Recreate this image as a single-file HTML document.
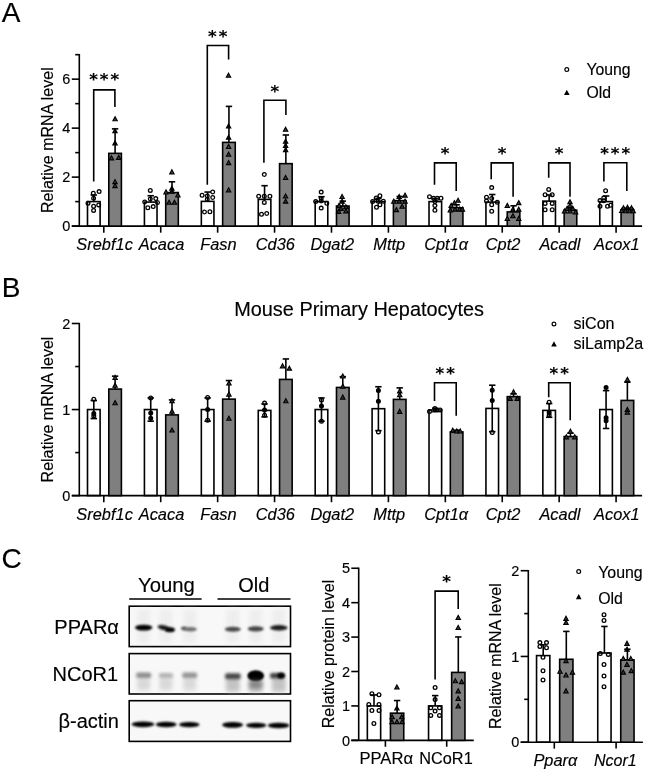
<!DOCTYPE html>
<html lang="en"><head><meta charset="utf-8"><title>Figure</title>
<style>
html,body{margin:0;padding:0;background:#fff;}
body{width:646px;height:772px;overflow:hidden;}
svg{display:block;}
text{fill:#000;stroke:#000;stroke-width:0.15px;}
</style></head><body>
<svg width="646" height="772" viewBox="0 0 646 772" font-family="Liberation Sans, Arial, sans-serif">
<defs>
<filter id="b1" x="-50%" y="-200%" width="200%" height="500%"><feGaussianBlur stdDeviation="1.1 0.9"/></filter>
<filter id="b2" x="-50%" y="-200%" width="200%" height="500%"><feGaussianBlur stdDeviation="1.6 1.4"/></filter>
<filter id="b3" x="-50%" y="-200%" width="200%" height="500%"><feGaussianBlur stdDeviation="2.2 2.6"/></filter>
</defs>
<rect x="0" y="0" width="646" height="772" fill="#fff"/>
<text x="1.70" y="21.90" font-size="28" text-anchor="start" >A</text>
<text x="1.70" y="296.60" font-size="28" text-anchor="start" >B</text>
<text x="1.40" y="567.60" font-size="28" text-anchor="start" >C</text>
<line x1="79.30" y1="54.02" x2="79.30" y2="226.75" stroke="#000" stroke-width="1.6" />
<line x1="71.80" y1="226.10" x2="642.10" y2="226.10" stroke="#000" stroke-width="1.6" />
<line x1="71.80" y1="226.10" x2="79.30" y2="226.10" stroke="#000" stroke-width="1.6" />
<text x="70.40" y="231.30" font-size="14.5" text-anchor="end" >0</text>
<line x1="71.80" y1="177.12" x2="79.30" y2="177.12" stroke="#000" stroke-width="1.6" />
<text x="70.40" y="182.32" font-size="14.5" text-anchor="end" >2</text>
<line x1="71.80" y1="128.14" x2="79.30" y2="128.14" stroke="#000" stroke-width="1.6" />
<text x="70.40" y="133.34" font-size="14.5" text-anchor="end" >4</text>
<line x1="71.80" y1="79.16" x2="79.30" y2="79.16" stroke="#000" stroke-width="1.6" />
<text x="70.40" y="84.36" font-size="14.5" text-anchor="end" >6</text>
<line x1="75.20" y1="201.61" x2="79.30" y2="201.61" stroke="#000" stroke-width="1.6" />
<line x1="75.20" y1="152.63" x2="79.30" y2="152.63" stroke="#000" stroke-width="1.6" />
<line x1="75.20" y1="103.65" x2="79.30" y2="103.65" stroke="#000" stroke-width="1.6" />
<line x1="75.20" y1="54.67" x2="79.30" y2="54.67" stroke="#000" stroke-width="1.6" />
<line x1="103.80" y1="226.10" x2="103.80" y2="232.70" stroke="#000" stroke-width="1.6" />
<line x1="160.72" y1="226.10" x2="160.72" y2="232.70" stroke="#000" stroke-width="1.6" />
<line x1="217.64" y1="226.10" x2="217.64" y2="232.70" stroke="#000" stroke-width="1.6" />
<line x1="274.56" y1="226.10" x2="274.56" y2="232.70" stroke="#000" stroke-width="1.6" />
<line x1="331.48" y1="226.10" x2="331.48" y2="232.70" stroke="#000" stroke-width="1.6" />
<line x1="388.40" y1="226.10" x2="388.40" y2="232.70" stroke="#000" stroke-width="1.6" />
<line x1="445.32" y1="226.10" x2="445.32" y2="232.70" stroke="#000" stroke-width="1.6" />
<line x1="502.24" y1="226.10" x2="502.24" y2="232.70" stroke="#000" stroke-width="1.6" />
<line x1="559.16" y1="226.10" x2="559.16" y2="232.70" stroke="#000" stroke-width="1.6" />
<line x1="616.08" y1="226.10" x2="616.08" y2="232.70" stroke="#000" stroke-width="1.6" />
<text x="104.60" y="250.30" font-size="16.4" text-anchor="middle" font-style="italic" >Srebf1c</text>
<text x="161.52" y="250.30" font-size="16.4" text-anchor="middle" font-style="italic" >Acaca</text>
<text x="218.44" y="250.30" font-size="16.4" text-anchor="middle" font-style="italic" >Fasn</text>
<text x="275.36" y="250.30" font-size="16.4" text-anchor="middle" font-style="italic" >Cd36</text>
<text x="332.28" y="250.30" font-size="16.4" text-anchor="middle" font-style="italic" >Dgat2</text>
<text x="389.20" y="250.30" font-size="16.4" text-anchor="middle" font-style="italic" >Mttp</text>
<text x="446.12" y="250.30" font-size="16.4" text-anchor="middle" font-style="italic" >Cpt1α</text>
<text x="503.04" y="250.30" font-size="16.4" text-anchor="middle" font-style="italic" >Cpt2</text>
<text x="559.96" y="250.30" font-size="16.4" text-anchor="middle" font-style="italic" >Acadl</text>
<text x="616.88" y="250.30" font-size="16.4" text-anchor="middle" font-style="italic" >Acox1</text>
<text transform="translate(53.4,140.2) rotate(-90)" font-size="16" text-anchor="middle">Relative mRNA level</text>
<circle cx="566.80" cy="69.60" r="1.9" fill="none" stroke="#000" stroke-width="1.2"/>
<path d="M566.80 90.92 L568.70 94.52 L564.90 94.52 Z" fill="#000" stroke="#000" stroke-width="1.1" stroke-linejoin="miter"/>
<text x="586.40" y="75.00" font-size="15.8" text-anchor="start" >Young</text>
<text x="586.40" y="98.30" font-size="15.8" text-anchor="start" >Old</text>
<rect x="87.50" y="201.61" width="12.60" height="24.49" fill="none" stroke="#000" stroke-width="1.6"/>
<rect x="108.80" y="153.36" width="12.60" height="72.74" fill="#7f7f7f" stroke="#000" stroke-width="1.6"/>
<circle cx="99.10" cy="191.60" r="1.85" fill="none" stroke="#000" stroke-width="1.3"/>
<circle cx="93.30" cy="193.30" r="1.85" fill="none" stroke="#000" stroke-width="1.3"/>
<circle cx="88.00" cy="203.20" r="1.85" fill="none" stroke="#000" stroke-width="1.3"/>
<circle cx="98.70" cy="204.90" r="1.85" fill="none" stroke="#000" stroke-width="1.3"/>
<circle cx="93.60" cy="206.30" r="1.85" fill="none" stroke="#000" stroke-width="1.3"/>
<circle cx="93.60" cy="210.40" r="1.85" fill="none" stroke="#000" stroke-width="1.3"/>
<circle cx="93.60" cy="198.30" r="1.85" fill="none" stroke="#000" stroke-width="1.3"/>
<path d="M115.10 116.65 L117.30 120.75 L112.90 120.75 Z" fill="#3a3a3a" stroke="#000" stroke-width="1.1" stroke-linejoin="miter"/>
<path d="M115.00 128.65 L117.20 132.75 L112.80 132.75 Z" fill="#3a3a3a" stroke="#000" stroke-width="1.1" stroke-linejoin="miter"/>
<path d="M115.00 140.84 L117.20 144.94 L112.80 144.94 Z" fill="#3a3a3a" stroke="#000" stroke-width="1.1" stroke-linejoin="miter"/>
<path d="M111.50 155.75 L113.70 159.84 L109.30 159.84 Z" fill="#3a3a3a" stroke="#000" stroke-width="1.1" stroke-linejoin="miter"/>
<path d="M118.70 155.25 L120.90 159.34 L116.50 159.34 Z" fill="#3a3a3a" stroke="#000" stroke-width="1.1" stroke-linejoin="miter"/>
<path d="M115.00 179.55 L117.20 183.65 L112.80 183.65 Z" fill="#3a3a3a" stroke="#000" stroke-width="1.1" stroke-linejoin="miter"/>
<path d="M115.00 183.55 L117.20 187.65 L112.80 187.65 Z" fill="#3a3a3a" stroke="#000" stroke-width="1.1" stroke-linejoin="miter"/>
<line x1="93.80" y1="195.00" x2="93.80" y2="201.61" stroke="#000" stroke-width="1.6" />
<line x1="90.60" y1="195.00" x2="97.00" y2="195.00" stroke="#000" stroke-width="1.6" />
<line x1="115.10" y1="128.87" x2="115.10" y2="153.36" stroke="#000" stroke-width="1.6" />
<line x1="111.90" y1="128.87" x2="118.30" y2="128.87" stroke="#000" stroke-width="1.6" />
<rect x="144.42" y="202.10" width="12.60" height="24.00" fill="none" stroke="#000" stroke-width="1.6"/>
<rect x="165.72" y="192.55" width="12.60" height="33.55" fill="#7f7f7f" stroke="#000" stroke-width="1.6"/>
<circle cx="150.30" cy="190.40" r="1.85" fill="none" stroke="#000" stroke-width="1.3"/>
<circle cx="155.80" cy="198.60" r="1.85" fill="none" stroke="#000" stroke-width="1.3"/>
<circle cx="144.70" cy="202.00" r="1.85" fill="none" stroke="#000" stroke-width="1.3"/>
<circle cx="157.50" cy="202.40" r="1.85" fill="none" stroke="#000" stroke-width="1.3"/>
<circle cx="147.80" cy="207.80" r="1.85" fill="none" stroke="#000" stroke-width="1.3"/>
<circle cx="153.20" cy="206.60" r="1.85" fill="none" stroke="#000" stroke-width="1.3"/>
<circle cx="150.30" cy="199.00" r="1.85" fill="none" stroke="#000" stroke-width="1.3"/>
<path d="M171.90 169.75 L174.10 173.84 L169.70 173.84 Z" fill="#3a3a3a" stroke="#000" stroke-width="1.1" stroke-linejoin="miter"/>
<path d="M171.90 186.15 L174.10 190.25 L169.70 190.25 Z" fill="#3a3a3a" stroke="#000" stroke-width="1.1" stroke-linejoin="miter"/>
<path d="M166.00 189.84 L168.20 193.94 L163.80 193.94 Z" fill="#3a3a3a" stroke="#000" stroke-width="1.1" stroke-linejoin="miter"/>
<path d="M177.90 192.94 L180.10 197.04 L175.70 197.04 Z" fill="#3a3a3a" stroke="#000" stroke-width="1.1" stroke-linejoin="miter"/>
<path d="M169.10 200.15 L171.30 204.25 L166.90 204.25 Z" fill="#3a3a3a" stroke="#000" stroke-width="1.1" stroke-linejoin="miter"/>
<path d="M174.50 200.15 L176.70 204.25 L172.30 204.25 Z" fill="#3a3a3a" stroke="#000" stroke-width="1.1" stroke-linejoin="miter"/>
<path d="M171.90 189.05 L174.10 193.15 L169.70 193.15 Z" fill="#3a3a3a" stroke="#000" stroke-width="1.1" stroke-linejoin="miter"/>
<line x1="150.72" y1="195.73" x2="150.72" y2="202.10" stroke="#000" stroke-width="1.6" />
<line x1="147.52" y1="195.73" x2="153.92" y2="195.73" stroke="#000" stroke-width="1.6" />
<line x1="172.02" y1="181.77" x2="172.02" y2="192.55" stroke="#000" stroke-width="1.6" />
<line x1="168.82" y1="181.77" x2="175.22" y2="181.77" stroke="#000" stroke-width="1.6" />
<rect x="201.34" y="201.37" width="12.60" height="24.73" fill="none" stroke="#000" stroke-width="1.6"/>
<rect x="222.64" y="142.39" width="12.60" height="83.71" fill="#7f7f7f" stroke="#000" stroke-width="1.6"/>
<circle cx="212.70" cy="192.00" r="1.85" fill="none" stroke="#000" stroke-width="1.3"/>
<circle cx="202.10" cy="195.30" r="1.85" fill="none" stroke="#000" stroke-width="1.3"/>
<circle cx="212.70" cy="197.50" r="1.85" fill="none" stroke="#000" stroke-width="1.3"/>
<circle cx="204.50" cy="212.00" r="1.85" fill="none" stroke="#000" stroke-width="1.3"/>
<circle cx="209.90" cy="211.70" r="1.85" fill="none" stroke="#000" stroke-width="1.3"/>
<circle cx="207.30" cy="196.00" r="1.85" fill="none" stroke="#000" stroke-width="1.3"/>
<circle cx="207.30" cy="199.50" r="1.85" fill="none" stroke="#000" stroke-width="1.3"/>
<path d="M228.50 73.15 L230.70 77.25 L226.30 77.25 Z" fill="#3a3a3a" stroke="#000" stroke-width="1.1" stroke-linejoin="miter"/>
<path d="M228.60 123.95 L230.80 128.05 L226.40 128.05 Z" fill="#3a3a3a" stroke="#000" stroke-width="1.1" stroke-linejoin="miter"/>
<path d="M228.60 135.15 L230.80 139.25 L226.40 139.25 Z" fill="#3a3a3a" stroke="#000" stroke-width="1.1" stroke-linejoin="miter"/>
<path d="M228.60 144.34 L230.80 148.44 L226.40 148.44 Z" fill="#3a3a3a" stroke="#000" stroke-width="1.1" stroke-linejoin="miter"/>
<path d="M228.60 152.15 L230.80 156.25 L226.40 156.25 Z" fill="#3a3a3a" stroke="#000" stroke-width="1.1" stroke-linejoin="miter"/>
<path d="M228.60 160.55 L230.80 164.65 L226.40 164.65 Z" fill="#3a3a3a" stroke="#000" stroke-width="1.1" stroke-linejoin="miter"/>
<path d="M228.60 187.84 L230.80 191.94 L226.40 191.94 Z" fill="#3a3a3a" stroke="#000" stroke-width="1.1" stroke-linejoin="miter"/>
<line x1="207.64" y1="192.06" x2="207.64" y2="201.37" stroke="#000" stroke-width="1.6" />
<line x1="204.44" y1="192.06" x2="210.84" y2="192.06" stroke="#000" stroke-width="1.6" />
<line x1="228.94" y1="106.39" x2="228.94" y2="142.39" stroke="#000" stroke-width="1.6" />
<line x1="225.74" y1="106.39" x2="232.14" y2="106.39" stroke="#000" stroke-width="1.6" />
<rect x="258.26" y="199.41" width="12.60" height="26.69" fill="none" stroke="#000" stroke-width="1.6"/>
<rect x="279.56" y="163.65" width="12.60" height="62.45" fill="#7f7f7f" stroke="#000" stroke-width="1.6"/>
<circle cx="264.30" cy="174.50" r="1.85" fill="none" stroke="#000" stroke-width="1.3"/>
<circle cx="258.70" cy="196.20" r="1.85" fill="none" stroke="#000" stroke-width="1.3"/>
<circle cx="269.90" cy="196.20" r="1.85" fill="none" stroke="#000" stroke-width="1.3"/>
<circle cx="264.30" cy="196.20" r="1.85" fill="none" stroke="#000" stroke-width="1.3"/>
<circle cx="264.30" cy="202.40" r="1.85" fill="none" stroke="#000" stroke-width="1.3"/>
<circle cx="261.50" cy="214.30" r="1.85" fill="none" stroke="#000" stroke-width="1.3"/>
<circle cx="266.70" cy="213.50" r="1.85" fill="none" stroke="#000" stroke-width="1.3"/>
<path d="M285.60 127.15 L287.80 131.25 L283.40 131.25 Z" fill="#3a3a3a" stroke="#000" stroke-width="1.1" stroke-linejoin="miter"/>
<path d="M285.60 139.15 L287.80 143.25 L283.40 143.25 Z" fill="#3a3a3a" stroke="#000" stroke-width="1.1" stroke-linejoin="miter"/>
<path d="M285.60 143.25 L287.80 147.34 L283.40 147.34 Z" fill="#3a3a3a" stroke="#000" stroke-width="1.1" stroke-linejoin="miter"/>
<path d="M285.60 147.55 L287.80 151.65 L283.40 151.65 Z" fill="#3a3a3a" stroke="#000" stroke-width="1.1" stroke-linejoin="miter"/>
<path d="M285.60 175.44 L287.80 179.54 L283.40 179.54 Z" fill="#3a3a3a" stroke="#000" stroke-width="1.1" stroke-linejoin="miter"/>
<path d="M285.60 193.94 L287.80 198.04 L283.40 198.04 Z" fill="#3a3a3a" stroke="#000" stroke-width="1.1" stroke-linejoin="miter"/>
<path d="M285.60 199.05 L287.80 203.15 L283.40 203.15 Z" fill="#3a3a3a" stroke="#000" stroke-width="1.1" stroke-linejoin="miter"/>
<line x1="264.56" y1="185.69" x2="264.56" y2="199.41" stroke="#000" stroke-width="1.6" />
<line x1="261.36" y1="185.69" x2="267.76" y2="185.69" stroke="#000" stroke-width="1.6" />
<line x1="285.86" y1="135.00" x2="285.86" y2="163.65" stroke="#000" stroke-width="1.6" />
<line x1="282.66" y1="135.00" x2="289.06" y2="135.00" stroke="#000" stroke-width="1.6" />
<rect x="315.18" y="201.61" width="12.60" height="24.49" fill="none" stroke="#000" stroke-width="1.6"/>
<rect x="336.48" y="206.02" width="12.60" height="20.08" fill="#7f7f7f" stroke="#000" stroke-width="1.6"/>
<circle cx="321.20" cy="192.10" r="1.85" fill="none" stroke="#000" stroke-width="1.3"/>
<circle cx="315.70" cy="201.60" r="1.85" fill="none" stroke="#000" stroke-width="1.3"/>
<circle cx="326.80" cy="203.20" r="1.85" fill="none" stroke="#000" stroke-width="1.3"/>
<circle cx="321.20" cy="208.10" r="1.85" fill="none" stroke="#000" stroke-width="1.3"/>
<circle cx="321.20" cy="198.50" r="1.85" fill="none" stroke="#000" stroke-width="1.3"/>
<circle cx="321.20" cy="201.00" r="1.85" fill="none" stroke="#000" stroke-width="1.3"/>
<path d="M342.10 194.44 L344.30 198.54 L339.90 198.54 Z" fill="#3a3a3a" stroke="#000" stroke-width="1.1" stroke-linejoin="miter"/>
<path d="M342.10 199.05 L344.30 203.15 L339.90 203.15 Z" fill="#3a3a3a" stroke="#000" stroke-width="1.1" stroke-linejoin="miter"/>
<path d="M339.10 203.25 L341.30 207.34 L336.90 207.34 Z" fill="#3a3a3a" stroke="#000" stroke-width="1.1" stroke-linejoin="miter"/>
<path d="M345.90 204.65 L348.10 208.75 L343.70 208.75 Z" fill="#3a3a3a" stroke="#000" stroke-width="1.1" stroke-linejoin="miter"/>
<path d="M338.70 209.25 L340.90 213.34 L336.50 213.34 Z" fill="#3a3a3a" stroke="#000" stroke-width="1.1" stroke-linejoin="miter"/>
<path d="M345.90 208.75 L348.10 212.84 L343.70 212.84 Z" fill="#3a3a3a" stroke="#000" stroke-width="1.1" stroke-linejoin="miter"/>
<path d="M341.00 206.25 L343.20 210.34 L338.80 210.34 Z" fill="#3a3a3a" stroke="#000" stroke-width="1.1" stroke-linejoin="miter"/>
<line x1="321.48" y1="196.71" x2="321.48" y2="201.61" stroke="#000" stroke-width="1.6" />
<line x1="318.28" y1="196.71" x2="324.68" y2="196.71" stroke="#000" stroke-width="1.6" />
<line x1="342.78" y1="201.12" x2="342.78" y2="206.02" stroke="#000" stroke-width="1.6" />
<line x1="339.58" y1="201.12" x2="345.98" y2="201.12" stroke="#000" stroke-width="1.6" />
<rect x="372.10" y="201.61" width="12.60" height="24.49" fill="none" stroke="#000" stroke-width="1.6"/>
<rect x="393.40" y="200.63" width="12.60" height="25.47" fill="#7f7f7f" stroke="#000" stroke-width="1.6"/>
<circle cx="379.90" cy="195.70" r="1.85" fill="none" stroke="#000" stroke-width="1.3"/>
<circle cx="376.20" cy="197.90" r="1.85" fill="none" stroke="#000" stroke-width="1.3"/>
<circle cx="372.60" cy="201.60" r="1.85" fill="none" stroke="#000" stroke-width="1.3"/>
<circle cx="383.30" cy="201.30" r="1.85" fill="none" stroke="#000" stroke-width="1.3"/>
<circle cx="379.90" cy="204.70" r="1.85" fill="none" stroke="#000" stroke-width="1.3"/>
<circle cx="376.50" cy="207.20" r="1.85" fill="none" stroke="#000" stroke-width="1.3"/>
<circle cx="378.20" cy="201.30" r="1.85" fill="none" stroke="#000" stroke-width="1.3"/>
<path d="M405.00 193.05 L407.20 197.15 L402.80 197.15 Z" fill="#3a3a3a" stroke="#000" stroke-width="1.1" stroke-linejoin="miter"/>
<path d="M399.20 194.44 L401.40 198.54 L397.00 198.54 Z" fill="#3a3a3a" stroke="#000" stroke-width="1.1" stroke-linejoin="miter"/>
<path d="M393.80 199.05 L396.00 203.15 L391.60 203.15 Z" fill="#3a3a3a" stroke="#000" stroke-width="1.1" stroke-linejoin="miter"/>
<path d="M399.20 199.05 L401.40 203.15 L397.00 203.15 Z" fill="#3a3a3a" stroke="#000" stroke-width="1.1" stroke-linejoin="miter"/>
<path d="M405.00 199.05 L407.20 203.15 L402.80 203.15 Z" fill="#3a3a3a" stroke="#000" stroke-width="1.1" stroke-linejoin="miter"/>
<path d="M402.10 204.15 L404.30 208.25 L399.90 208.25 Z" fill="#3a3a3a" stroke="#000" stroke-width="1.1" stroke-linejoin="miter"/>
<path d="M396.40 207.55 L398.60 211.65 L394.20 211.65 Z" fill="#3a3a3a" stroke="#000" stroke-width="1.1" stroke-linejoin="miter"/>
<line x1="378.40" y1="198.43" x2="378.40" y2="201.61" stroke="#000" stroke-width="1.6" />
<line x1="375.20" y1="198.43" x2="381.60" y2="198.43" stroke="#000" stroke-width="1.6" />
<line x1="399.70" y1="196.47" x2="399.70" y2="200.63" stroke="#000" stroke-width="1.6" />
<line x1="396.50" y1="196.47" x2="402.90" y2="196.47" stroke="#000" stroke-width="1.6" />
<rect x="429.02" y="201.61" width="12.60" height="24.49" fill="none" stroke="#000" stroke-width="1.6"/>
<rect x="450.32" y="207.73" width="12.60" height="18.37" fill="#7f7f7f" stroke="#000" stroke-width="1.6"/>
<circle cx="429.50" cy="196.70" r="1.85" fill="none" stroke="#000" stroke-width="1.3"/>
<circle cx="433.60" cy="198.20" r="1.85" fill="none" stroke="#000" stroke-width="1.3"/>
<circle cx="437.30" cy="198.20" r="1.85" fill="none" stroke="#000" stroke-width="1.3"/>
<circle cx="441.00" cy="198.20" r="1.85" fill="none" stroke="#000" stroke-width="1.3"/>
<circle cx="434.90" cy="205.60" r="1.85" fill="none" stroke="#000" stroke-width="1.3"/>
<circle cx="434.90" cy="210.20" r="1.85" fill="none" stroke="#000" stroke-width="1.3"/>
<circle cx="434.90" cy="201.50" r="1.85" fill="none" stroke="#000" stroke-width="1.3"/>
<path d="M458.10 198.15 L460.30 202.25 L455.90 202.25 Z" fill="#3a3a3a" stroke="#000" stroke-width="1.1" stroke-linejoin="miter"/>
<path d="M454.40 200.55 L456.60 204.65 L452.20 204.65 Z" fill="#3a3a3a" stroke="#000" stroke-width="1.1" stroke-linejoin="miter"/>
<path d="M451.20 203.34 L453.40 207.44 L449.00 207.44 Z" fill="#3a3a3a" stroke="#000" stroke-width="1.1" stroke-linejoin="miter"/>
<path d="M450.30 207.94 L452.50 212.04 L448.10 212.04 Z" fill="#3a3a3a" stroke="#000" stroke-width="1.1" stroke-linejoin="miter"/>
<path d="M455.00 207.05 L457.20 211.15 L452.80 211.15 Z" fill="#3a3a3a" stroke="#000" stroke-width="1.1" stroke-linejoin="miter"/>
<path d="M459.60 207.05 L461.80 211.15 L457.40 211.15 Z" fill="#3a3a3a" stroke="#000" stroke-width="1.1" stroke-linejoin="miter"/>
<path d="M462.40 207.05 L464.60 211.15 L460.20 211.15 Z" fill="#3a3a3a" stroke="#000" stroke-width="1.1" stroke-linejoin="miter"/>
<line x1="435.32" y1="198.43" x2="435.32" y2="201.61" stroke="#000" stroke-width="1.6" />
<line x1="432.12" y1="198.43" x2="438.52" y2="198.43" stroke="#000" stroke-width="1.6" />
<line x1="456.62" y1="204.79" x2="456.62" y2="207.73" stroke="#000" stroke-width="1.6" />
<line x1="453.42" y1="204.79" x2="459.82" y2="204.79" stroke="#000" stroke-width="1.6" />
<rect x="485.94" y="202.10" width="12.60" height="24.00" fill="none" stroke="#000" stroke-width="1.6"/>
<rect x="507.24" y="211.90" width="12.60" height="14.20" fill="#7f7f7f" stroke="#000" stroke-width="1.6"/>
<circle cx="491.70" cy="187.60" r="1.85" fill="none" stroke="#000" stroke-width="1.3"/>
<circle cx="486.50" cy="197.20" r="1.85" fill="none" stroke="#000" stroke-width="1.3"/>
<circle cx="486.50" cy="200.90" r="1.85" fill="none" stroke="#000" stroke-width="1.3"/>
<circle cx="497.30" cy="202.20" r="1.85" fill="none" stroke="#000" stroke-width="1.3"/>
<circle cx="491.70" cy="204.70" r="1.85" fill="none" stroke="#000" stroke-width="1.3"/>
<circle cx="491.70" cy="211.20" r="1.85" fill="none" stroke="#000" stroke-width="1.3"/>
<circle cx="491.70" cy="198.50" r="1.85" fill="none" stroke="#000" stroke-width="1.3"/>
<path d="M518.70 200.55 L520.90 204.65 L516.50 204.65 Z" fill="#3a3a3a" stroke="#000" stroke-width="1.1" stroke-linejoin="miter"/>
<path d="M507.30 203.34 L509.50 207.44 L505.10 207.44 Z" fill="#3a3a3a" stroke="#000" stroke-width="1.1" stroke-linejoin="miter"/>
<path d="M512.90 207.05 L515.10 211.15 L510.70 211.15 Z" fill="#3a3a3a" stroke="#000" stroke-width="1.1" stroke-linejoin="miter"/>
<path d="M518.70 207.05 L520.90 211.15 L516.50 211.15 Z" fill="#3a3a3a" stroke="#000" stroke-width="1.1" stroke-linejoin="miter"/>
<path d="M512.90 213.55 L515.10 217.65 L510.70 217.65 Z" fill="#3a3a3a" stroke="#000" stroke-width="1.1" stroke-linejoin="miter"/>
<path d="M507.30 216.34 L509.50 220.44 L505.10 220.44 Z" fill="#3a3a3a" stroke="#000" stroke-width="1.1" stroke-linejoin="miter"/>
<path d="M518.70 216.34 L520.90 220.44 L516.50 220.44 Z" fill="#3a3a3a" stroke="#000" stroke-width="1.1" stroke-linejoin="miter"/>
<line x1="492.24" y1="194.51" x2="492.24" y2="202.10" stroke="#000" stroke-width="1.6" />
<line x1="489.04" y1="194.51" x2="495.44" y2="194.51" stroke="#000" stroke-width="1.6" />
<line x1="513.54" y1="205.77" x2="513.54" y2="211.90" stroke="#000" stroke-width="1.6" />
<line x1="510.34" y1="205.77" x2="516.74" y2="205.77" stroke="#000" stroke-width="1.6" />
<rect x="542.86" y="201.12" width="12.60" height="24.98" fill="none" stroke="#000" stroke-width="1.6"/>
<rect x="564.16" y="210.18" width="12.60" height="15.92" fill="#7f7f7f" stroke="#000" stroke-width="1.6"/>
<circle cx="548.70" cy="189.40" r="1.85" fill="none" stroke="#000" stroke-width="1.3"/>
<circle cx="545.10" cy="194.80" r="1.85" fill="none" stroke="#000" stroke-width="1.3"/>
<circle cx="552.20" cy="194.80" r="1.85" fill="none" stroke="#000" stroke-width="1.3"/>
<circle cx="545.10" cy="203.40" r="1.85" fill="none" stroke="#000" stroke-width="1.3"/>
<circle cx="552.20" cy="203.40" r="1.85" fill="none" stroke="#000" stroke-width="1.3"/>
<circle cx="545.10" cy="209.70" r="1.85" fill="none" stroke="#000" stroke-width="1.3"/>
<circle cx="552.20" cy="209.70" r="1.85" fill="none" stroke="#000" stroke-width="1.3"/>
<path d="M570.00 199.65 L572.20 203.75 L567.80 203.75 Z" fill="#3a3a3a" stroke="#000" stroke-width="1.1" stroke-linejoin="miter"/>
<path d="M570.00 203.34 L572.20 207.44 L567.80 207.44 Z" fill="#3a3a3a" stroke="#000" stroke-width="1.1" stroke-linejoin="miter"/>
<path d="M567.20 206.15 L569.40 210.25 L565.00 210.25 Z" fill="#3a3a3a" stroke="#000" stroke-width="1.1" stroke-linejoin="miter"/>
<path d="M572.80 206.15 L575.00 210.25 L570.60 210.25 Z" fill="#3a3a3a" stroke="#000" stroke-width="1.1" stroke-linejoin="miter"/>
<path d="M564.50 208.94 L566.70 213.04 L562.30 213.04 Z" fill="#3a3a3a" stroke="#000" stroke-width="1.1" stroke-linejoin="miter"/>
<path d="M570.00 208.94 L572.20 213.04 L567.80 213.04 Z" fill="#3a3a3a" stroke="#000" stroke-width="1.1" stroke-linejoin="miter"/>
<path d="M575.60 209.84 L577.80 213.94 L573.40 213.94 Z" fill="#3a3a3a" stroke="#000" stroke-width="1.1" stroke-linejoin="miter"/>
<line x1="549.16" y1="195.00" x2="549.16" y2="201.12" stroke="#000" stroke-width="1.6" />
<line x1="545.96" y1="195.00" x2="552.36" y2="195.00" stroke="#000" stroke-width="1.6" />
<line x1="570.46" y1="207.73" x2="570.46" y2="210.18" stroke="#000" stroke-width="1.6" />
<line x1="567.26" y1="207.73" x2="573.66" y2="207.73" stroke="#000" stroke-width="1.6" />
<rect x="599.78" y="201.61" width="12.60" height="24.49" fill="none" stroke="#000" stroke-width="1.6"/>
<rect x="621.08" y="209.69" width="12.60" height="16.41" fill="#7f7f7f" stroke="#000" stroke-width="1.6"/>
<circle cx="605.60" cy="190.80" r="1.85" fill="none" stroke="#000" stroke-width="1.3"/>
<circle cx="600.00" cy="200.60" r="1.85" fill="none" stroke="#000" stroke-width="1.3"/>
<circle cx="603.70" cy="198.00" r="1.85" fill="none" stroke="#000" stroke-width="1.3"/>
<circle cx="603.70" cy="200.80" r="1.85" fill="none" stroke="#000" stroke-width="1.3"/>
<circle cx="600.00" cy="206.20" r="1.85" fill="none" stroke="#000" stroke-width="1.3"/>
<circle cx="607.50" cy="206.20" r="1.85" fill="none" stroke="#000" stroke-width="1.3"/>
<circle cx="610.70" cy="205.30" r="1.85" fill="none" stroke="#000" stroke-width="1.3"/>
<path d="M623.50 205.65 L625.70 209.75 L621.30 209.75 Z" fill="#3a3a3a" stroke="#000" stroke-width="1.1" stroke-linejoin="miter"/>
<path d="M627.50 205.25 L629.70 209.34 L625.30 209.34 Z" fill="#3a3a3a" stroke="#000" stroke-width="1.1" stroke-linejoin="miter"/>
<path d="M631.50 205.65 L633.70 209.75 L629.30 209.75 Z" fill="#3a3a3a" stroke="#000" stroke-width="1.1" stroke-linejoin="miter"/>
<path d="M621.80 208.34 L624.00 212.44 L619.60 212.44 Z" fill="#3a3a3a" stroke="#000" stroke-width="1.1" stroke-linejoin="miter"/>
<path d="M625.50 208.65 L627.70 212.75 L623.30 212.75 Z" fill="#3a3a3a" stroke="#000" stroke-width="1.1" stroke-linejoin="miter"/>
<path d="M629.50 208.65 L631.70 212.75 L627.30 212.75 Z" fill="#3a3a3a" stroke="#000" stroke-width="1.1" stroke-linejoin="miter"/>
<path d="M633.20 208.65 L635.40 212.75 L631.00 212.75 Z" fill="#3a3a3a" stroke="#000" stroke-width="1.1" stroke-linejoin="miter"/>
<line x1="606.08" y1="195.98" x2="606.08" y2="201.61" stroke="#000" stroke-width="1.6" />
<line x1="602.88" y1="195.98" x2="609.28" y2="195.98" stroke="#000" stroke-width="1.6" />
<line x1="627.38" y1="208.22" x2="627.38" y2="209.69" stroke="#000" stroke-width="1.6" />
<line x1="624.18" y1="208.22" x2="630.58" y2="208.22" stroke="#000" stroke-width="1.6" />
<path d="M93.70 181.50 V89.90 H114.90 V107.10" fill="none" stroke="#000" stroke-width="1.6" stroke-linejoin="miter"/>
<text x="105.10" y="85.40" font-size="16.5" text-anchor="middle" font-family="DejaVu Sans, Liberation Sans, sans-serif" font-weight="bold" stroke="#000" stroke-width="0.35" letter-spacing="2.0">***</text>
<path d="M207.30 184.70 V45.50 H228.60 V59.60" fill="none" stroke="#000" stroke-width="1.6" stroke-linejoin="miter"/>
<text x="218.75" y="41.70" font-size="16.5" text-anchor="middle" font-family="DejaVu Sans, Liberation Sans, sans-serif" font-weight="bold" stroke="#000" stroke-width="0.35" letter-spacing="2.0">**</text>
<path d="M263.90 162.80 V100.30 H285.90 V115.10" fill="none" stroke="#000" stroke-width="1.6" stroke-linejoin="miter"/>
<text x="275.70" y="96.50" font-size="16.5" text-anchor="middle" font-family="DejaVu Sans, Liberation Sans, sans-serif" font-weight="bold" stroke="#000" stroke-width="0.35" letter-spacing="2.0">*</text>
<path d="M434.50 184.80 V162.90 H456.20 V191.10" fill="none" stroke="#000" stroke-width="1.6" stroke-linejoin="miter"/>
<text x="446.15" y="159.30" font-size="16.5" text-anchor="middle" font-family="DejaVu Sans, Liberation Sans, sans-serif" font-weight="bold" stroke="#000" stroke-width="0.35" letter-spacing="2.0">*</text>
<path d="M491.20 179.20 V162.90 H513.10 V196.70" fill="none" stroke="#000" stroke-width="1.6" stroke-linejoin="miter"/>
<text x="502.95" y="159.30" font-size="16.5" text-anchor="middle" font-family="DejaVu Sans, Liberation Sans, sans-serif" font-weight="bold" stroke="#000" stroke-width="0.35" letter-spacing="2.0">*</text>
<path d="M548.70 177.70 V162.90 H570.00 V196.70" fill="none" stroke="#000" stroke-width="1.6" stroke-linejoin="miter"/>
<text x="560.15" y="159.30" font-size="16.5" text-anchor="middle" font-family="DejaVu Sans, Liberation Sans, sans-serif" font-weight="bold" stroke="#000" stroke-width="0.35" letter-spacing="2.0">*</text>
<path d="M603.90 181.50 V162.70 H626.80 V191.10" fill="none" stroke="#000" stroke-width="1.6" stroke-linejoin="miter"/>
<text x="616.15" y="159.10" font-size="16.5" text-anchor="middle" font-family="DejaVu Sans, Liberation Sans, sans-serif" font-weight="bold" stroke="#000" stroke-width="0.35" letter-spacing="2.0">***</text>
<line x1="79.30" y1="322.85" x2="79.30" y2="496.25" stroke="#000" stroke-width="1.6" />
<line x1="71.80" y1="495.60" x2="642.10" y2="495.60" stroke="#000" stroke-width="1.6" />
<line x1="71.80" y1="495.60" x2="79.30" y2="495.60" stroke="#000" stroke-width="1.6" />
<text x="70.40" y="500.80" font-size="14.5" text-anchor="end" >0</text>
<line x1="71.80" y1="409.55" x2="79.30" y2="409.55" stroke="#000" stroke-width="1.6" />
<text x="70.40" y="414.75" font-size="14.5" text-anchor="end" >1</text>
<line x1="71.80" y1="323.50" x2="79.30" y2="323.50" stroke="#000" stroke-width="1.6" />
<text x="70.40" y="328.70" font-size="14.5" text-anchor="end" >2</text>
<line x1="75.20" y1="452.58" x2="79.30" y2="452.58" stroke="#000" stroke-width="1.6" />
<line x1="75.20" y1="366.53" x2="79.30" y2="366.53" stroke="#000" stroke-width="1.6" />
<line x1="103.80" y1="495.60" x2="103.80" y2="502.20" stroke="#000" stroke-width="1.6" />
<line x1="160.72" y1="495.60" x2="160.72" y2="502.20" stroke="#000" stroke-width="1.6" />
<line x1="217.64" y1="495.60" x2="217.64" y2="502.20" stroke="#000" stroke-width="1.6" />
<line x1="274.56" y1="495.60" x2="274.56" y2="502.20" stroke="#000" stroke-width="1.6" />
<line x1="331.48" y1="495.60" x2="331.48" y2="502.20" stroke="#000" stroke-width="1.6" />
<line x1="388.40" y1="495.60" x2="388.40" y2="502.20" stroke="#000" stroke-width="1.6" />
<line x1="445.32" y1="495.60" x2="445.32" y2="502.20" stroke="#000" stroke-width="1.6" />
<line x1="502.24" y1="495.60" x2="502.24" y2="502.20" stroke="#000" stroke-width="1.6" />
<line x1="559.16" y1="495.60" x2="559.16" y2="502.20" stroke="#000" stroke-width="1.6" />
<line x1="616.08" y1="495.60" x2="616.08" y2="502.20" stroke="#000" stroke-width="1.6" />
<text x="104.60" y="519.80" font-size="16.4" text-anchor="middle" font-style="italic" >Srebf1c</text>
<text x="161.52" y="519.80" font-size="16.4" text-anchor="middle" font-style="italic" >Acaca</text>
<text x="218.44" y="519.80" font-size="16.4" text-anchor="middle" font-style="italic" >Fasn</text>
<text x="275.36" y="519.80" font-size="16.4" text-anchor="middle" font-style="italic" >Cd36</text>
<text x="332.28" y="519.80" font-size="16.4" text-anchor="middle" font-style="italic" >Dgat2</text>
<text x="389.20" y="519.80" font-size="16.4" text-anchor="middle" font-style="italic" >Mttp</text>
<text x="446.12" y="519.80" font-size="16.4" text-anchor="middle" font-style="italic" >Cpt1α</text>
<text x="503.04" y="519.80" font-size="16.4" text-anchor="middle" font-style="italic" >Cpt2</text>
<text x="559.96" y="519.80" font-size="16.4" text-anchor="middle" font-style="italic" >Acadl</text>
<text x="616.88" y="519.80" font-size="16.4" text-anchor="middle" font-style="italic" >Acox1</text>
<text transform="translate(53.4,409.5) rotate(-90)" font-size="16" text-anchor="middle">Relative mRNA level</text>
<text x="359.10" y="315.80" font-size="19.9" text-anchor="middle" >Mouse Primary Hepatocytes</text>
<circle cx="554.00" cy="324.00" r="1.9" fill="none" stroke="#000" stroke-width="1.2"/>
<path d="M554.00 342.42 L555.90 346.02 L552.10 346.02 Z" fill="#000" stroke="#000" stroke-width="1.1" stroke-linejoin="miter"/>
<text x="573.40" y="328.60" font-size="16.1" text-anchor="start" >siCon</text>
<text x="573.40" y="348.70" font-size="16.1" text-anchor="start" >siLamp2a</text>
<rect x="87.50" y="409.55" width="12.60" height="86.05" fill="none" stroke="#000" stroke-width="1.6"/>
<rect x="108.80" y="389.07" width="12.60" height="106.53" fill="#7f7f7f" stroke="#000" stroke-width="1.6"/>
<line x1="93.80" y1="400.51" x2="93.80" y2="418.59" stroke="#000" stroke-width="1.6" />
<line x1="90.60" y1="400.51" x2="97.00" y2="400.51" stroke="#000" stroke-width="1.6" />
<line x1="90.60" y1="418.59" x2="97.00" y2="418.59" stroke="#000" stroke-width="1.6" />
<line x1="115.10" y1="376.16" x2="115.10" y2="389.07" stroke="#000" stroke-width="1.6" />
<line x1="111.90" y1="376.16" x2="118.30" y2="376.16" stroke="#000" stroke-width="1.6" />
<circle cx="93.80" cy="399.22" r="1.85" fill="none" stroke="#000" stroke-width="1.3"/>
<circle cx="93.80" cy="413.42" r="1.85" fill="#000" stroke="#000" stroke-width="1.3"/>
<circle cx="93.80" cy="416.00" r="1.85" fill="none" stroke="#000" stroke-width="1.3"/>
<path d="M115.10 375.46 L117.30 379.56 L112.90 379.56 Z" fill="#3a3a3a" stroke="#000" stroke-width="1.1" stroke-linejoin="miter"/>
<path d="M115.10 383.20 L117.30 387.30 L112.90 387.30 Z" fill="#3a3a3a" stroke="#000" stroke-width="1.1" stroke-linejoin="miter"/>
<path d="M115.10 400.58 L117.30 404.68 L112.90 404.68 Z" fill="#3a3a3a" stroke="#000" stroke-width="1.1" stroke-linejoin="miter"/>
<rect x="144.42" y="409.55" width="12.60" height="86.05" fill="none" stroke="#000" stroke-width="1.6"/>
<rect x="165.72" y="414.89" width="12.60" height="80.71" fill="#7f7f7f" stroke="#000" stroke-width="1.6"/>
<line x1="150.72" y1="397.93" x2="150.72" y2="421.17" stroke="#000" stroke-width="1.6" />
<line x1="147.52" y1="397.93" x2="153.92" y2="397.93" stroke="#000" stroke-width="1.6" />
<line x1="147.52" y1="421.17" x2="153.92" y2="421.17" stroke="#000" stroke-width="1.6" />
<line x1="172.02" y1="399.91" x2="172.02" y2="414.89" stroke="#000" stroke-width="1.6" />
<line x1="168.82" y1="399.91" x2="175.22" y2="399.91" stroke="#000" stroke-width="1.6" />
<circle cx="150.72" cy="397.93" r="1.85" fill="none" stroke="#000" stroke-width="1.3"/>
<circle cx="150.72" cy="412.99" r="1.85" fill="#000" stroke="#000" stroke-width="1.3"/>
<circle cx="150.72" cy="418.16" r="1.85" fill="#000" stroke="#000" stroke-width="1.3"/>
<path d="M172.02 398.69 L174.22 402.79 L169.82 402.79 Z" fill="#3a3a3a" stroke="#000" stroke-width="1.1" stroke-linejoin="miter"/>
<path d="M172.02 409.02 L174.22 413.12 L169.82 413.12 Z" fill="#3a3a3a" stroke="#000" stroke-width="1.1" stroke-linejoin="miter"/>
<path d="M172.02 427.95 L174.22 432.05 L169.82 432.05 Z" fill="#3a3a3a" stroke="#000" stroke-width="1.1" stroke-linejoin="miter"/>
<rect x="201.34" y="409.55" width="12.60" height="86.05" fill="none" stroke="#000" stroke-width="1.6"/>
<rect x="222.64" y="399.14" width="12.60" height="96.46" fill="#7f7f7f" stroke="#000" stroke-width="1.6"/>
<line x1="207.64" y1="397.93" x2="207.64" y2="421.17" stroke="#000" stroke-width="1.6" />
<line x1="204.44" y1="397.93" x2="210.84" y2="397.93" stroke="#000" stroke-width="1.6" />
<line x1="204.44" y1="421.17" x2="210.84" y2="421.17" stroke="#000" stroke-width="1.6" />
<line x1="228.94" y1="380.55" x2="228.94" y2="399.14" stroke="#000" stroke-width="1.6" />
<line x1="225.74" y1="380.55" x2="232.14" y2="380.55" stroke="#000" stroke-width="1.6" />
<circle cx="207.64" cy="397.50" r="1.85" fill="none" stroke="#000" stroke-width="1.3"/>
<circle cx="207.64" cy="409.55" r="1.85" fill="#000" stroke="#000" stroke-width="1.3"/>
<circle cx="207.64" cy="420.31" r="1.85" fill="none" stroke="#000" stroke-width="1.3"/>
<path d="M228.94 380.88 L231.14 384.98 L226.74 384.98 Z" fill="#3a3a3a" stroke="#000" stroke-width="1.1" stroke-linejoin="miter"/>
<path d="M228.94 391.98 L231.14 396.08 L226.74 396.08 Z" fill="#3a3a3a" stroke="#000" stroke-width="1.1" stroke-linejoin="miter"/>
<path d="M228.94 416.16 L231.14 420.26 L226.74 420.26 Z" fill="#3a3a3a" stroke="#000" stroke-width="1.1" stroke-linejoin="miter"/>
<rect x="258.26" y="410.41" width="12.60" height="85.19" fill="none" stroke="#000" stroke-width="1.6"/>
<rect x="279.56" y="379.43" width="12.60" height="116.17" fill="#7f7f7f" stroke="#000" stroke-width="1.6"/>
<line x1="264.56" y1="403.96" x2="264.56" y2="416.86" stroke="#000" stroke-width="1.6" />
<line x1="261.36" y1="403.96" x2="267.76" y2="403.96" stroke="#000" stroke-width="1.6" />
<line x1="261.36" y1="416.86" x2="267.76" y2="416.86" stroke="#000" stroke-width="1.6" />
<line x1="285.86" y1="358.95" x2="285.86" y2="379.43" stroke="#000" stroke-width="1.6" />
<line x1="282.66" y1="358.95" x2="289.06" y2="358.95" stroke="#000" stroke-width="1.6" />
<circle cx="264.56" cy="403.10" r="1.85" fill="none" stroke="#000" stroke-width="1.3"/>
<circle cx="264.56" cy="409.98" r="1.85" fill="#000" stroke="#000" stroke-width="1.3"/>
<circle cx="264.56" cy="415.14" r="1.85" fill="none" stroke="#000" stroke-width="1.3"/>
<path d="M282.56 363.75 L284.76 367.85 L280.36 367.85 Z" fill="#3a3a3a" stroke="#000" stroke-width="1.1" stroke-linejoin="miter"/>
<path d="M289.36 366.16 L291.56 370.26 L287.16 370.26 Z" fill="#3a3a3a" stroke="#000" stroke-width="1.1" stroke-linejoin="miter"/>
<path d="M285.86 398.69 L288.06 402.79 L283.66 402.79 Z" fill="#3a3a3a" stroke="#000" stroke-width="1.1" stroke-linejoin="miter"/>
<rect x="315.18" y="409.55" width="12.60" height="86.05" fill="none" stroke="#000" stroke-width="1.6"/>
<rect x="336.48" y="387.44" width="12.60" height="108.16" fill="#7f7f7f" stroke="#000" stroke-width="1.6"/>
<line x1="321.48" y1="397.93" x2="321.48" y2="421.17" stroke="#000" stroke-width="1.6" />
<line x1="318.28" y1="397.93" x2="324.68" y2="397.93" stroke="#000" stroke-width="1.6" />
<line x1="318.28" y1="421.17" x2="324.68" y2="421.17" stroke="#000" stroke-width="1.6" />
<line x1="342.78" y1="376.68" x2="342.78" y2="387.44" stroke="#000" stroke-width="1.6" />
<line x1="339.58" y1="376.68" x2="345.98" y2="376.68" stroke="#000" stroke-width="1.6" />
<circle cx="321.48" cy="400.08" r="1.85" fill="none" stroke="#000" stroke-width="1.3"/>
<circle cx="321.48" cy="406.11" r="1.85" fill="#000" stroke="#000" stroke-width="1.3"/>
<circle cx="321.48" cy="421.17" r="1.85" fill="none" stroke="#000" stroke-width="1.3"/>
<path d="M342.78 373.91 L344.98 378.01 L340.58 378.01 Z" fill="#3a3a3a" stroke="#000" stroke-width="1.1" stroke-linejoin="miter"/>
<path d="M342.78 384.06 L344.98 388.16 L340.58 388.16 Z" fill="#3a3a3a" stroke="#000" stroke-width="1.1" stroke-linejoin="miter"/>
<path d="M342.78 394.99 L344.98 399.09 L340.58 399.09 Z" fill="#3a3a3a" stroke="#000" stroke-width="1.1" stroke-linejoin="miter"/>
<rect x="372.10" y="408.69" width="12.60" height="86.91" fill="none" stroke="#000" stroke-width="1.6"/>
<rect x="393.40" y="399.40" width="12.60" height="96.20" fill="#7f7f7f" stroke="#000" stroke-width="1.6"/>
<line x1="378.40" y1="386.75" x2="378.40" y2="430.63" stroke="#000" stroke-width="1.6" />
<line x1="375.20" y1="386.75" x2="381.60" y2="386.75" stroke="#000" stroke-width="1.6" />
<line x1="375.20" y1="430.63" x2="381.60" y2="430.63" stroke="#000" stroke-width="1.6" />
<line x1="399.70" y1="387.87" x2="399.70" y2="399.40" stroke="#000" stroke-width="1.6" />
<line x1="396.50" y1="387.87" x2="402.90" y2="387.87" stroke="#000" stroke-width="1.6" />
<circle cx="378.40" cy="390.62" r="1.85" fill="#000" stroke="#000" stroke-width="1.3"/>
<circle cx="378.40" cy="401.29" r="1.85" fill="#000" stroke="#000" stroke-width="1.3"/>
<circle cx="378.40" cy="431.92" r="1.85" fill="none" stroke="#000" stroke-width="1.3"/>
<path d="M399.70 388.79 L401.90 392.89 L397.50 392.89 Z" fill="#3a3a3a" stroke="#000" stroke-width="1.1" stroke-linejoin="miter"/>
<path d="M399.70 392.67 L401.90 396.77 L397.50 396.77 Z" fill="#3a3a3a" stroke="#000" stroke-width="1.1" stroke-linejoin="miter"/>
<path d="M399.70 409.27 L401.90 413.37 L397.50 413.37 Z" fill="#3a3a3a" stroke="#000" stroke-width="1.1" stroke-linejoin="miter"/>
<rect x="429.02" y="409.98" width="12.60" height="85.62" fill="none" stroke="#000" stroke-width="1.6"/>
<rect x="450.32" y="431.92" width="12.60" height="63.68" fill="#7f7f7f" stroke="#000" stroke-width="1.6"/>
<line x1="435.32" y1="408.26" x2="435.32" y2="411.70" stroke="#000" stroke-width="1.6" />
<line x1="432.12" y1="408.26" x2="438.52" y2="408.26" stroke="#000" stroke-width="1.6" />
<line x1="432.12" y1="411.70" x2="438.52" y2="411.70" stroke="#000" stroke-width="1.6" />
<line x1="456.62" y1="430.20" x2="456.62" y2="431.92" stroke="#000" stroke-width="1.6" />
<line x1="453.42" y1="430.20" x2="459.82" y2="430.20" stroke="#000" stroke-width="1.6" />
<circle cx="429.50" cy="411.50" r="1.85" fill="none" stroke="#000" stroke-width="1.3"/>
<circle cx="434.90" cy="408.60" r="1.85" fill="none" stroke="#000" stroke-width="1.3"/>
<circle cx="440.10" cy="409.90" r="1.85" fill="none" stroke="#000" stroke-width="1.3"/>
<path d="M452.70 428.05 L454.90 432.15 L450.50 432.15 Z" fill="#3a3a3a" stroke="#000" stroke-width="1.1" stroke-linejoin="miter"/>
<path d="M456.80 428.94 L459.00 433.05 L454.60 433.05 Z" fill="#3a3a3a" stroke="#000" stroke-width="1.1" stroke-linejoin="miter"/>
<path d="M460.20 428.94 L462.40 433.05 L458.00 433.05 Z" fill="#3a3a3a" stroke="#000" stroke-width="1.1" stroke-linejoin="miter"/>
<rect x="485.94" y="408.43" width="12.60" height="87.17" fill="none" stroke="#000" stroke-width="1.6"/>
<rect x="507.24" y="396.64" width="12.60" height="98.96" fill="#7f7f7f" stroke="#000" stroke-width="1.6"/>
<line x1="492.24" y1="385.20" x2="492.24" y2="431.66" stroke="#000" stroke-width="1.6" />
<line x1="489.04" y1="385.20" x2="495.44" y2="385.20" stroke="#000" stroke-width="1.6" />
<line x1="489.04" y1="431.66" x2="495.44" y2="431.66" stroke="#000" stroke-width="1.6" />
<line x1="513.54" y1="393.80" x2="513.54" y2="396.64" stroke="#000" stroke-width="1.6" />
<line x1="510.34" y1="393.80" x2="516.74" y2="393.80" stroke="#000" stroke-width="1.6" />
<circle cx="492.24" cy="390.19" r="1.85" fill="#000" stroke="#000" stroke-width="1.3"/>
<circle cx="492.24" cy="400.43" r="1.85" fill="#000" stroke="#000" stroke-width="1.3"/>
<circle cx="492.24" cy="432.53" r="1.85" fill="none" stroke="#000" stroke-width="1.3"/>
<path d="M513.54 389.74 L515.74 393.84 L511.34 393.84 Z" fill="#3a3a3a" stroke="#000" stroke-width="1.1" stroke-linejoin="miter"/>
<path d="M510.14 396.28 L512.34 400.38 L507.94 400.38 Z" fill="#3a3a3a" stroke="#000" stroke-width="1.1" stroke-linejoin="miter"/>
<path d="M517.24 396.28 L519.44 400.38 L515.04 400.38 Z" fill="#3a3a3a" stroke="#000" stroke-width="1.1" stroke-linejoin="miter"/>
<rect x="542.86" y="410.41" width="12.60" height="85.19" fill="none" stroke="#000" stroke-width="1.6"/>
<rect x="564.16" y="436.57" width="12.60" height="59.03" fill="#7f7f7f" stroke="#000" stroke-width="1.6"/>
<line x1="549.16" y1="403.53" x2="549.16" y2="417.29" stroke="#000" stroke-width="1.6" />
<line x1="545.96" y1="403.53" x2="552.36" y2="403.53" stroke="#000" stroke-width="1.6" />
<line x1="545.96" y1="417.29" x2="552.36" y2="417.29" stroke="#000" stroke-width="1.6" />
<line x1="570.46" y1="433.13" x2="570.46" y2="436.57" stroke="#000" stroke-width="1.6" />
<line x1="567.26" y1="433.13" x2="573.66" y2="433.13" stroke="#000" stroke-width="1.6" />
<circle cx="549.16" cy="402.24" r="1.85" fill="none" stroke="#000" stroke-width="1.3"/>
<circle cx="549.16" cy="412.56" r="1.85" fill="#000" stroke="#000" stroke-width="1.3"/>
<circle cx="549.16" cy="415.23" r="1.85" fill="none" stroke="#000" stroke-width="1.3"/>
<path d="M570.46 429.15 L572.66 433.25 L568.26 433.25 Z" fill="#3a3a3a" stroke="#000" stroke-width="1.1" stroke-linejoin="miter"/>
<path d="M566.36 434.74 L568.56 438.84 L564.16 438.84 Z" fill="#3a3a3a" stroke="#000" stroke-width="1.1" stroke-linejoin="miter"/>
<path d="M574.76 434.74 L576.96 438.84 L572.56 438.84 Z" fill="#3a3a3a" stroke="#000" stroke-width="1.1" stroke-linejoin="miter"/>
<rect x="599.78" y="409.55" width="12.60" height="86.05" fill="none" stroke="#000" stroke-width="1.6"/>
<rect x="621.08" y="400.43" width="12.60" height="95.17" fill="#7f7f7f" stroke="#000" stroke-width="1.6"/>
<line x1="606.08" y1="390.62" x2="606.08" y2="428.48" stroke="#000" stroke-width="1.6" />
<line x1="602.88" y1="390.62" x2="609.28" y2="390.62" stroke="#000" stroke-width="1.6" />
<line x1="602.88" y1="428.48" x2="609.28" y2="428.48" stroke="#000" stroke-width="1.6" />
<line x1="627.38" y1="382.19" x2="627.38" y2="400.43" stroke="#000" stroke-width="1.6" />
<line x1="624.18" y1="382.19" x2="630.58" y2="382.19" stroke="#000" stroke-width="1.6" />
<circle cx="606.08" cy="387.44" r="1.85" fill="#000" stroke="#000" stroke-width="1.3"/>
<circle cx="606.08" cy="417.72" r="1.85" fill="#000" stroke="#000" stroke-width="1.3"/>
<circle cx="606.08" cy="420.82" r="1.85" fill="#000" stroke="#000" stroke-width="1.3"/>
<path d="M627.38 377.35 L629.58 381.45 L625.18 381.45 Z" fill="#3a3a3a" stroke="#000" stroke-width="1.1" stroke-linejoin="miter"/>
<path d="M627.38 407.47 L629.58 411.57 L625.18 411.57 Z" fill="#3a3a3a" stroke="#000" stroke-width="1.1" stroke-linejoin="miter"/>
<path d="M627.38 410.22 L629.58 414.32 L625.18 414.32 Z" fill="#3a3a3a" stroke="#000" stroke-width="1.1" stroke-linejoin="miter"/>
<path d="M434.50 400.90 V382.70 H456.20 V415.80" fill="none" stroke="#000" stroke-width="1.6" stroke-linejoin="miter"/>
<text x="446.15" y="378.90" font-size="16.5" text-anchor="middle" font-family="DejaVu Sans, Liberation Sans, sans-serif" font-weight="bold" stroke="#000" stroke-width="0.35" letter-spacing="2.0">**</text>
<path d="M548.70 397.20 V382.70 H570.20 V420.30" fill="none" stroke="#000" stroke-width="1.6" stroke-linejoin="miter"/>
<text x="560.25" y="378.90" font-size="16.5" text-anchor="middle" font-family="DejaVu Sans, Liberation Sans, sans-serif" font-weight="bold" stroke="#000" stroke-width="0.35" letter-spacing="2.0">**</text>
<text x="166.40" y="591.50" font-size="20.3" text-anchor="middle" >Young</text>
<text x="253.80" y="591.50" font-size="20" text-anchor="middle" >Old</text>
<line x1="129.20" y1="599.00" x2="201.60" y2="599.00" stroke="#000" stroke-width="1.3" />
<line x1="217.50" y1="599.00" x2="290.50" y2="599.00" stroke="#000" stroke-width="1.3" />
<text x="118.90" y="633.80" font-size="20" text-anchor="end" >PPARα</text>
<text x="118.20" y="680.80" font-size="20" text-anchor="end" >NCoR1</text>
<text x="118.90" y="728.40" font-size="20" text-anchor="end" >β-actin</text>
<rect x="129.2" y="606.2" width="161.3" height="40.4" fill="#f8f8f8" stroke="#000" stroke-width="1.6"/>
<rect x="129.2" y="653.6" width="161.3" height="40.4" fill="#f8f8f8" stroke="#000" stroke-width="1.6"/>
<rect x="129.2" y="700.7" width="161.3" height="40.7" fill="#f8f8f8" stroke="#000" stroke-width="1.6"/>
<rect x="137.2" y="609.0" width="13" height="34" rx="2" fill="#e4e4e4" opacity="0.5" filter="url(#b3)"/>
<rect x="159.5" y="609.0" width="13" height="34" rx="2" fill="#e4e4e4" opacity="0.5" filter="url(#b3)"/>
<rect x="183.2" y="609.0" width="13" height="34" rx="2" fill="#e4e4e4" opacity="0.5" filter="url(#b3)"/>
<rect x="226.3" y="609.0" width="13" height="34" rx="2" fill="#e4e4e4" opacity="0.5" filter="url(#b3)"/>
<rect x="249.2" y="609.0" width="13" height="34" rx="2" fill="#e4e4e4" opacity="0.5" filter="url(#b3)"/>
<rect x="272.3" y="609.0" width="13" height="34" rx="2" fill="#e4e4e4" opacity="0.5" filter="url(#b3)"/>
<ellipse cx="143.7" cy="627.6" rx="8.8" ry="2.9" fill="#050505" opacity="1" filter="url(#b1)"/>
<ellipse cx="163.5" cy="627.6" rx="6" ry="2.4" fill="#111" opacity="1" filter="url(#b1)" transform="rotate(12 163.5 627.6)"/>
<ellipse cx="170" cy="629.8000000000001" rx="5" ry="2.5" fill="#050505" opacity="1" filter="url(#b1)"/>
<ellipse cx="184" cy="628.4000000000001" rx="3" ry="1.8" fill="#555" opacity="1" filter="url(#b1)"/>
<ellipse cx="190.5" cy="629.2" rx="6.5" ry="2.2" fill="#707070" opacity="1" filter="url(#b1)"/>
<ellipse cx="232.8" cy="629.2" rx="8" ry="2.5" fill="#4a4a4a" opacity="1" filter="url(#b1)"/>
<ellipse cx="255.7" cy="628.8000000000001" rx="8" ry="2.6" fill="#444" opacity="1" filter="url(#b1)"/>
<ellipse cx="278.8" cy="627.8000000000001" rx="8.8" ry="2.7" fill="#1c1c1c" opacity="1" filter="url(#b1)"/>
<rect x="137.2" y="676.4" width="13" height="14" rx="2" fill="#c4c4c4" opacity="0.6" filter="url(#b3)"/>
<rect x="159.5" y="676.4" width="13" height="14" rx="2" fill="#c4c4c4" opacity="0.6" filter="url(#b3)"/>
<rect x="183.2" y="676.4" width="13" height="14" rx="2" fill="#c4c4c4" opacity="0.6" filter="url(#b3)"/>
<rect x="136.2" y="672.4" width="15" height="5.5" rx="2" fill="#8e8e8e" opacity="1" filter="url(#b2)"/>
<rect x="159.0" y="672.9" width="14" height="5" rx="2" fill="#b4b4b4" opacity="1" filter="url(#b2)"/>
<rect x="182.2" y="672.4" width="15" height="5.5" rx="2" fill="#949494" opacity="1" filter="url(#b2)"/>
<rect x="225.8" y="676.9" width="14" height="15" rx="2" fill="#a0a0a0" opacity="0.6" filter="url(#b3)"/>
<rect x="248.7" y="676.9" width="14" height="15" rx="2" fill="#a0a0a0" opacity="0.6" filter="url(#b3)"/>
<rect x="271.8" y="676.9" width="14" height="15" rx="2" fill="#a0a0a0" opacity="0.6" filter="url(#b3)"/>
<rect x="225.1" y="673.2" width="15.5" height="6" rx="2" fill="#4a4a4a" opacity="1" filter="url(#b2)"/>
<ellipse cx="255.7" cy="675.8" rx="8.2" ry="5.2" fill="#000" opacity="1" filter="url(#b1)"/>
<ellipse cx="255.7" cy="675.8" rx="7.2" ry="4.2" fill="#000" opacity="1" filter="url(#b1)"/>
<rect x="249.2" y="680.4" width="13" height="8" rx="2" fill="#666" opacity="0.7" filter="url(#b3)"/>
<rect x="270.0" y="673.0" width="14" height="5.6" rx="2" fill="#404040" opacity="1" filter="url(#b2)"/>
<ellipse cx="281.2" cy="675.6" rx="3.8" ry="2.9" fill="#000" opacity="1" filter="url(#b1)"/>
<ellipse cx="143.0" cy="724.3000000000001" rx="11.5" ry="2.9" fill="#000" opacity="1" filter="url(#b1)"/>
<ellipse cx="166.2" cy="724.5" rx="10.5" ry="2.8" fill="#000" opacity="1" filter="url(#b1)"/>
<ellipse cx="189.3" cy="724.7" rx="10.2" ry="2.6" fill="#050505" opacity="1" filter="url(#b1)"/>
<ellipse cx="232.6" cy="724.9000000000001" rx="10.5" ry="2.9" fill="#000" opacity="1" filter="url(#b1)"/>
<ellipse cx="256.2" cy="725.3000000000001" rx="10.2" ry="2.6" fill="#050505" opacity="1" filter="url(#b1)"/>
<ellipse cx="278.6" cy="725.5" rx="10.8" ry="2.7" fill="#000" opacity="1" filter="url(#b1)"/>
<line x1="358.70" y1="567.60" x2="358.70" y2="741.00" stroke="#000" stroke-width="1.6" />
<line x1="351.30" y1="740.35" x2="473.80" y2="740.35" stroke="#000" stroke-width="1.6" />
<line x1="351.30" y1="740.35" x2="358.70" y2="740.35" stroke="#000" stroke-width="1.6" />
<text x="350.20" y="745.55" font-size="14.5" text-anchor="end" >0</text>
<line x1="351.30" y1="705.93" x2="358.70" y2="705.93" stroke="#000" stroke-width="1.6" />
<text x="350.20" y="711.13" font-size="14.5" text-anchor="end" >1</text>
<line x1="351.30" y1="671.51" x2="358.70" y2="671.51" stroke="#000" stroke-width="1.6" />
<text x="350.20" y="676.71" font-size="14.5" text-anchor="end" >2</text>
<line x1="351.30" y1="637.09" x2="358.70" y2="637.09" stroke="#000" stroke-width="1.6" />
<text x="350.20" y="642.29" font-size="14.5" text-anchor="end" >3</text>
<line x1="351.30" y1="602.67" x2="358.70" y2="602.67" stroke="#000" stroke-width="1.6" />
<text x="350.20" y="607.87" font-size="14.5" text-anchor="end" >4</text>
<line x1="351.30" y1="568.25" x2="358.70" y2="568.25" stroke="#000" stroke-width="1.6" />
<text x="350.20" y="573.45" font-size="14.5" text-anchor="end" >5</text>
<line x1="385.40" y1="740.35" x2="385.40" y2="746.75" stroke="#000" stroke-width="1.6" />
<line x1="446.70" y1="740.35" x2="446.70" y2="746.75" stroke="#000" stroke-width="1.6" />
<text transform="translate(333.5,654) rotate(-90)" font-size="16" text-anchor="middle">Relative protein level</text>
<text x="413.00" y="764.10" font-size="16.6" text-anchor="end" >PPARα</text>
<text x="446.00" y="764.10" font-size="16.3" text-anchor="middle" >NCoR1</text>
<rect x="367.35" y="705.93" width="13.30" height="34.42" fill="none" stroke="#000" stroke-width="1.6"/>
<rect x="390.45" y="713.16" width="13.30" height="27.19" fill="#7f7f7f" stroke="#000" stroke-width="1.6"/>
<circle cx="371.90" cy="693.80" r="1.85" fill="none" stroke="#000" stroke-width="1.3"/>
<circle cx="379.00" cy="694.70" r="1.85" fill="none" stroke="#000" stroke-width="1.3"/>
<circle cx="368.80" cy="704.50" r="1.85" fill="none" stroke="#000" stroke-width="1.3"/>
<circle cx="379.00" cy="704.50" r="1.85" fill="none" stroke="#000" stroke-width="1.3"/>
<circle cx="371.90" cy="710.50" r="1.85" fill="none" stroke="#000" stroke-width="1.3"/>
<circle cx="379.00" cy="710.50" r="1.85" fill="none" stroke="#000" stroke-width="1.3"/>
<circle cx="373.90" cy="723.50" r="1.85" fill="none" stroke="#000" stroke-width="1.3"/>
<path d="M396.90 684.95 L399.10 689.05 L394.70 689.05 Z" fill="#3a3a3a" stroke="#000" stroke-width="1.1" stroke-linejoin="miter"/>
<path d="M396.90 705.95 L399.10 710.05 L394.70 710.05 Z" fill="#3a3a3a" stroke="#000" stroke-width="1.1" stroke-linejoin="miter"/>
<path d="M392.20 714.64 L394.40 718.75 L390.00 718.75 Z" fill="#3a3a3a" stroke="#000" stroke-width="1.1" stroke-linejoin="miter"/>
<path d="M401.70 714.64 L403.90 718.75 L399.50 718.75 Z" fill="#3a3a3a" stroke="#000" stroke-width="1.1" stroke-linejoin="miter"/>
<path d="M392.00 719.54 L394.20 723.64 L389.80 723.64 Z" fill="#3a3a3a" stroke="#000" stroke-width="1.1" stroke-linejoin="miter"/>
<path d="M396.90 719.54 L399.10 723.64 L394.70 723.64 Z" fill="#3a3a3a" stroke="#000" stroke-width="1.1" stroke-linejoin="miter"/>
<path d="M402.00 719.54 L404.20 723.64 L399.80 723.64 Z" fill="#3a3a3a" stroke="#000" stroke-width="1.1" stroke-linejoin="miter"/>
<line x1="374.00" y1="694.92" x2="374.00" y2="705.93" stroke="#000" stroke-width="1.6" />
<line x1="370.80" y1="694.92" x2="377.20" y2="694.92" stroke="#000" stroke-width="1.6" />
<line x1="397.10" y1="700.56" x2="397.10" y2="713.16" stroke="#000" stroke-width="1.6" />
<line x1="393.90" y1="700.56" x2="400.30" y2="700.56" stroke="#000" stroke-width="1.6" />
<rect x="428.55" y="705.93" width="13.30" height="34.42" fill="none" stroke="#000" stroke-width="1.6"/>
<rect x="451.65" y="672.40" width="13.30" height="67.95" fill="#7f7f7f" stroke="#000" stroke-width="1.6"/>
<circle cx="435.10" cy="687.50" r="1.85" fill="none" stroke="#000" stroke-width="1.3"/>
<circle cx="435.10" cy="699.60" r="1.85" fill="none" stroke="#000" stroke-width="1.3"/>
<circle cx="430.80" cy="707.70" r="1.85" fill="none" stroke="#000" stroke-width="1.3"/>
<circle cx="439.50" cy="707.70" r="1.85" fill="none" stroke="#000" stroke-width="1.3"/>
<circle cx="435.10" cy="711.10" r="1.85" fill="none" stroke="#000" stroke-width="1.3"/>
<circle cx="430.80" cy="715.40" r="1.85" fill="none" stroke="#000" stroke-width="1.3"/>
<circle cx="439.50" cy="715.40" r="1.85" fill="none" stroke="#000" stroke-width="1.3"/>
<path d="M458.20 615.35 L460.40 619.45 L456.00 619.45 Z" fill="#3a3a3a" stroke="#000" stroke-width="1.1" stroke-linejoin="miter"/>
<path d="M458.20 625.45 L460.40 629.55 L456.00 629.55 Z" fill="#3a3a3a" stroke="#000" stroke-width="1.1" stroke-linejoin="miter"/>
<path d="M455.30 678.64 L457.50 682.75 L453.10 682.75 Z" fill="#3a3a3a" stroke="#000" stroke-width="1.1" stroke-linejoin="miter"/>
<path d="M461.60 679.54 L463.80 683.64 L459.40 683.64 Z" fill="#3a3a3a" stroke="#000" stroke-width="1.1" stroke-linejoin="miter"/>
<path d="M458.20 688.75 L460.40 692.85 L456.00 692.85 Z" fill="#3a3a3a" stroke="#000" stroke-width="1.1" stroke-linejoin="miter"/>
<path d="M458.20 696.45 L460.40 700.55 L456.00 700.55 Z" fill="#3a3a3a" stroke="#000" stroke-width="1.1" stroke-linejoin="miter"/>
<path d="M458.20 703.95 L460.40 708.05 L456.00 708.05 Z" fill="#3a3a3a" stroke="#000" stroke-width="1.1" stroke-linejoin="miter"/>
<line x1="435.20" y1="695.60" x2="435.20" y2="705.93" stroke="#000" stroke-width="1.6" />
<line x1="432.00" y1="695.60" x2="438.40" y2="695.60" stroke="#000" stroke-width="1.6" />
<line x1="458.30" y1="636.95" x2="458.30" y2="672.40" stroke="#000" stroke-width="1.6" />
<line x1="455.10" y1="636.95" x2="461.50" y2="636.95" stroke="#000" stroke-width="1.6" />
<path d="M435.10 679.50 V591.10 H458.20 V609.00" fill="none" stroke="#000" stroke-width="1.6" stroke-linejoin="miter"/>
<text x="447.45" y="587.20" font-size="16.5" text-anchor="middle" font-family="DejaVu Sans, Liberation Sans, sans-serif" font-weight="bold" stroke="#000" stroke-width="0.35" letter-spacing="2.0">*</text>
<line x1="528.30" y1="570.05" x2="528.30" y2="742.85" stroke="#000" stroke-width="1.6" />
<line x1="520.70" y1="742.20" x2="642.90" y2="742.20" stroke="#000" stroke-width="1.6" />
<line x1="520.70" y1="742.20" x2="528.30" y2="742.20" stroke="#000" stroke-width="1.6" />
<text x="519.40" y="747.40" font-size="14.5" text-anchor="end" >0</text>
<line x1="520.70" y1="656.45" x2="528.30" y2="656.45" stroke="#000" stroke-width="1.6" />
<text x="519.40" y="661.65" font-size="14.5" text-anchor="end" >1</text>
<line x1="520.70" y1="570.70" x2="528.30" y2="570.70" stroke="#000" stroke-width="1.6" />
<text x="519.40" y="575.90" font-size="14.5" text-anchor="end" >2</text>
<line x1="524.20" y1="699.33" x2="528.30" y2="699.33" stroke="#000" stroke-width="1.6" />
<line x1="524.20" y1="613.58" x2="528.30" y2="613.58" stroke="#000" stroke-width="1.6" />
<line x1="554.30" y1="742.20" x2="554.30" y2="748.60" stroke="#000" stroke-width="1.6" />
<line x1="616.10" y1="742.20" x2="616.10" y2="748.60" stroke="#000" stroke-width="1.6" />
<text transform="translate(501.2,656.2) rotate(-90)" font-size="16" text-anchor="middle">Relative mRNA level</text>
<text x="555.40" y="765.80" font-size="16.4" text-anchor="middle" font-style="italic" >Pparα</text>
<text x="615.30" y="765.80" font-size="16" text-anchor="middle" font-style="italic" >Ncor1</text>
<circle cx="578.70" cy="571.60" r="1.9" fill="none" stroke="#000" stroke-width="1.2"/>
<path d="M578.70 595.12 L580.60 598.72 L576.80 598.72 Z" fill="#000" stroke="#000" stroke-width="1.1" stroke-linejoin="miter"/>
<text x="598.20" y="577.90" font-size="15.9" text-anchor="start" >Young</text>
<text x="598.20" y="603.80" font-size="15.9" text-anchor="start" >Old</text>
<rect x="536.55" y="655.59" width="13.30" height="86.61" fill="none" stroke="#000" stroke-width="1.6"/>
<rect x="559.65" y="659.28" width="13.30" height="82.92" fill="#7f7f7f" stroke="#000" stroke-width="1.6"/>
<circle cx="539.90" cy="642.60" r="1.85" fill="none" stroke="#000" stroke-width="1.3"/>
<circle cx="546.50" cy="642.60" r="1.85" fill="none" stroke="#000" stroke-width="1.3"/>
<circle cx="539.90" cy="646.40" r="1.85" fill="none" stroke="#000" stroke-width="1.3"/>
<circle cx="546.50" cy="647.80" r="1.85" fill="none" stroke="#000" stroke-width="1.3"/>
<circle cx="543.00" cy="657.30" r="1.85" fill="none" stroke="#000" stroke-width="1.3"/>
<circle cx="543.00" cy="670.80" r="1.85" fill="none" stroke="#000" stroke-width="1.3"/>
<circle cx="543.00" cy="680.00" r="1.85" fill="none" stroke="#000" stroke-width="1.3"/>
<path d="M566.00 616.25 L568.20 620.35 L563.80 620.35 Z" fill="#3a3a3a" stroke="#000" stroke-width="1.1" stroke-linejoin="miter"/>
<path d="M566.00 620.25 L568.20 624.35 L563.80 624.35 Z" fill="#3a3a3a" stroke="#000" stroke-width="1.1" stroke-linejoin="miter"/>
<path d="M566.00 658.54 L568.20 662.64 L563.80 662.64 Z" fill="#3a3a3a" stroke="#000" stroke-width="1.1" stroke-linejoin="miter"/>
<path d="M560.00 669.14 L562.20 673.25 L557.80 673.25 Z" fill="#3a3a3a" stroke="#000" stroke-width="1.1" stroke-linejoin="miter"/>
<path d="M572.40 670.04 L574.60 674.14 L570.20 674.14 Z" fill="#3a3a3a" stroke="#000" stroke-width="1.1" stroke-linejoin="miter"/>
<path d="M566.00 672.85 L568.20 676.95 L563.80 676.95 Z" fill="#3a3a3a" stroke="#000" stroke-width="1.1" stroke-linejoin="miter"/>
<path d="M566.00 688.75 L568.20 692.85 L563.80 692.85 Z" fill="#3a3a3a" stroke="#000" stroke-width="1.1" stroke-linejoin="miter"/>
<line x1="543.20" y1="644.87" x2="543.20" y2="655.59" stroke="#000" stroke-width="1.6" />
<line x1="540.00" y1="644.87" x2="546.40" y2="644.87" stroke="#000" stroke-width="1.6" />
<line x1="566.30" y1="631.41" x2="566.30" y2="659.28" stroke="#000" stroke-width="1.6" />
<line x1="563.10" y1="631.41" x2="569.50" y2="631.41" stroke="#000" stroke-width="1.6" />
<rect x="597.75" y="653.02" width="13.30" height="89.18" fill="none" stroke="#000" stroke-width="1.6"/>
<rect x="620.75" y="659.88" width="13.30" height="82.32" fill="#7f7f7f" stroke="#000" stroke-width="1.6"/>
<circle cx="604.00" cy="614.70" r="1.85" fill="none" stroke="#000" stroke-width="1.3"/>
<circle cx="604.00" cy="620.50" r="1.85" fill="none" stroke="#000" stroke-width="1.3"/>
<circle cx="600.30" cy="653.60" r="1.85" fill="none" stroke="#000" stroke-width="1.3"/>
<circle cx="608.30" cy="654.40" r="1.85" fill="none" stroke="#000" stroke-width="1.3"/>
<circle cx="604.00" cy="664.50" r="1.85" fill="none" stroke="#000" stroke-width="1.3"/>
<circle cx="604.00" cy="676.00" r="1.85" fill="none" stroke="#000" stroke-width="1.3"/>
<circle cx="604.00" cy="686.70" r="1.85" fill="none" stroke="#000" stroke-width="1.3"/>
<path d="M627.00 641.25 L629.20 645.35 L624.80 645.35 Z" fill="#3a3a3a" stroke="#000" stroke-width="1.1" stroke-linejoin="miter"/>
<path d="M627.00 647.04 L629.20 651.14 L624.80 651.14 Z" fill="#3a3a3a" stroke="#000" stroke-width="1.1" stroke-linejoin="miter"/>
<path d="M623.30 656.45 L625.50 660.55 L621.10 660.55 Z" fill="#3a3a3a" stroke="#000" stroke-width="1.1" stroke-linejoin="miter"/>
<path d="M630.80 656.45 L633.00 660.55 L628.60 660.55 Z" fill="#3a3a3a" stroke="#000" stroke-width="1.1" stroke-linejoin="miter"/>
<path d="M627.00 662.25 L629.20 666.35 L624.80 666.35 Z" fill="#3a3a3a" stroke="#000" stroke-width="1.1" stroke-linejoin="miter"/>
<path d="M623.30 670.04 L625.50 674.14 L621.10 674.14 Z" fill="#3a3a3a" stroke="#000" stroke-width="1.1" stroke-linejoin="miter"/>
<path d="M631.30 668.54 L633.50 672.64 L629.10 672.64 Z" fill="#3a3a3a" stroke="#000" stroke-width="1.1" stroke-linejoin="miter"/>
<line x1="604.40" y1="626.44" x2="604.40" y2="653.02" stroke="#000" stroke-width="1.6" />
<line x1="601.20" y1="626.44" x2="607.60" y2="626.44" stroke="#000" stroke-width="1.6" />
<line x1="627.40" y1="649.25" x2="627.40" y2="659.88" stroke="#000" stroke-width="1.6" />
<line x1="624.20" y1="649.25" x2="630.60" y2="649.25" stroke="#000" stroke-width="1.6" />
</svg></body></html>
